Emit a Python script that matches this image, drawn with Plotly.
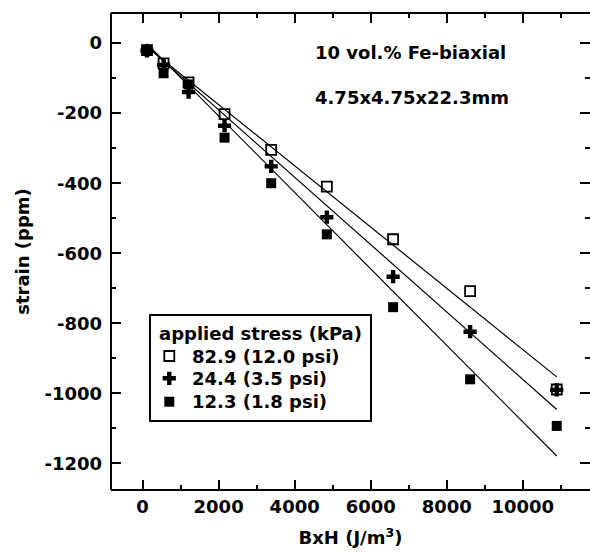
import plotly.graph_objects as go

# Magnetoelastic strain vs. magnetic energy density (BxH) for a biaxial
# 10 vol.% Fe composite, at three applied compressive stresses.
bxh = [116, 552, 1209, 2156, 3383, 4847, 6590, 8615, 10894]

strain_82_9 = [-20, -58, -112, -203, -305, -410, -560, -708, -989]
strain_24_4 = [-22, -62, -140, -236, -352, -497, -667, -824, -990]
strain_12_3 = [-20, -86, -118, -270, -400, -546, -754, -960, -1093]

legend_title = "applied stress (kPa)"
series_names = ["82.9 (12.0 psi)", "24.4 (3.5 psi)", "12.3 (1.8 psi)"]
series_values = [strain_82_9, strain_24_4, strain_12_3]

# Linear fits (slope in ppm per J/m^3, intercept in ppm)
fit_slope = [-0.08742, -0.09618, -0.10919]
fit_intercept = [-0.7, 1.8, 10.5]

y_tick_vals = [0, -200, -400, -600, -800, -1000, -1200]
y_tick_text = ["0", "-200", "-400", "-600", "-800", "-1000", "-1200"]
x_tick_vals = [0, 2000, 4000, 6000, 8000, 10000]
x_tick_text = ["0", "2000", "4000", "6000", "8000", "10000"]

FONT = dict(family="DejaVu Sans", size=18, color="black", weight="bold")

marker_styles = [
    dict(symbol="square-open", size=10, color="black", line=dict(width=1.8, color="black")),
    dict(symbol="cross", size=11, color="black", line=dict(width=0)),
    dict(symbol="square", size=10, color="black", line=dict(width=0)),
]

fig = go.Figure()

# fitted lines, spanning the measured field range
x_lo, x_hi = min(bxh), max(bxh)
for m, b in zip(fit_slope, fit_intercept):
    fig.add_trace(go.Scatter(
        x=[x_lo, x_hi], y=[m * x_lo + b, m * x_hi + b],
        mode="lines", line=dict(color="black", width=1.2),
        showlegend=False, hoverinfo="skip",
    ))

for name, vals, mk in zip(series_names, series_values, marker_styles):
    fig.add_trace(go.Scatter(
        x=bxh, y=vals, mode="markers", name=name, marker=mk,
        showlegend=False,
    ))

# boxed key, laid out in paper units on a hidden overlay axis pair
key_box = dict(x0=0.0814, x1=0.5428, y0=0.1447, y1=0.3669)
key_title_pos = (0.096, 0.3285)
key_marker_x = 0.1217
key_text_x = 0.1649
key_rows_y = [0.2809, 0.2342, 0.1851]

fig.add_shape(type="rect", xref="paper", yref="paper",
              line=dict(color="black", width=2), fillcolor="white",
              layer="below", **key_box)
for name, mk, ry in zip(series_names, marker_styles, key_rows_y):
    fig.add_trace(go.Scatter(
        x=[key_marker_x], y=[ry], xaxis="x2", yaxis="y2",
        mode="markers", marker=mk, showlegend=False, hoverinfo="skip",
    ))
    fig.add_annotation(text=name, xref="paper", yref="paper",
                       x=key_text_x, y=ry, xanchor="left", yanchor="middle",
                       showarrow=False, font=FONT)
fig.add_annotation(text=legend_title, xref="paper", yref="paper",
                   x=key_title_pos[0], y=key_title_pos[1],
                   xanchor="left", yanchor="middle", showarrow=False, font=FONT)

axis_common = dict(
    showgrid=False, zeroline=False, showline=False,
    ticks="inside", ticklen=10, tickwidth=2, tickcolor="black",
    mirror="ticks", tickfont=FONT, tickmode="array",
)

fig.update_xaxes(
    range=[-831, 11769], tickvals=x_tick_vals, ticktext=x_tick_text,
    minor=dict(dtick=1000, tick0=0, ticks="inside", ticklen=5, tickwidth=2, tickcolor="black"),
    title=dict(text="BxH (J/m<sup>3</sup>)", font=FONT, standoff=15),
    ticklabelstandoff=4,
    **axis_common,
)
fig.update_yaxes(
    range=[-1276, 86], tickvals=y_tick_vals, ticktext=y_tick_text,
    minor=dict(dtick=100, tick0=0, ticks="inside", ticklen=5, tickwidth=2, tickcolor="black"),
    title=dict(text="strain (ppm)", font=FONT, standoff=10),
    ticklabelstandoff=8,
    **axis_common,
)

# plot frame: left, top and bottom edges
for x0, y0, x1, y1 in [(0, 0, 0, 1), (0, 1, 1, 1), (0, 0, 1, 0)]:
    fig.add_shape(type="line", xref="paper", yref="paper",
                  x0=x0, y0=y0, x1=x1, y1=y1,
                  line=dict(color="black", width=2), layer="above")

fig.add_annotation(text="10 vol.% Fe-biaxial", xref="paper", yref="paper",
                   x=0.4215, y=0.918, xanchor="left", yanchor="middle",
                   showarrow=False, font=FONT)
fig.add_annotation(text="4.75x4.75x22.3mm", xref="paper", yref="paper",
                   x=0.4215, y=0.8238, xanchor="left", yanchor="middle",
                   showarrow=False, font=FONT)

fig.update_layout(
    width=590, height=552,
    margin=dict(l=111, r=0, t=13, b=62, autoexpand=False),
    paper_bgcolor="white", plot_bgcolor="white",
    font=FONT,
    showlegend=False,
    xaxis2=dict(overlaying="x", range=[0, 1], visible=False, fixedrange=True),
    yaxis2=dict(overlaying="y", range=[0, 1], visible=False, fixedrange=True),
)

fig.write_html("out.html")
